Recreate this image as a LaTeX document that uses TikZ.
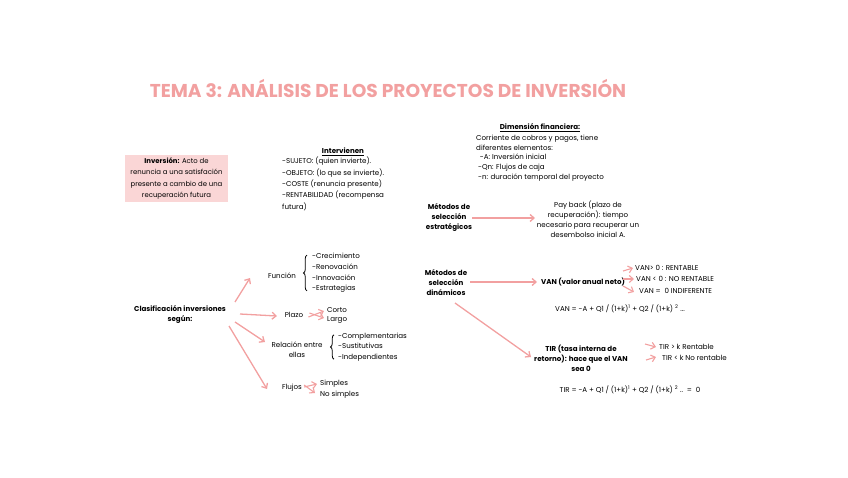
\documentclass[tikz,border=0pt]{standalone}
\usepackage{fontspec}
\setmainfont{Poppins}
\usetikzlibrary{positioning,arrows.meta,decorations.pathreplacing}
\definecolor{rosa}{HTML}{F2A0A0}
\definecolor{rosaclaro}{HTML}{FAD6D6}

\begin{document}
\begin{tikzpicture}[
    x=1pt, y=-1pt,
    font=\fontsize{7.1}{10.4}\selectfont,
    txt/.style={align=center, inner sep=1pt},
    lst/.style={align=left, inner sep=1pt},
    head/.style={txt, font=\fontsize{7.1}{10}\selectfont\bfseries},
    arrow/.style={-{Straight Barb[length=4pt,width=7pt]}, rosa, line width=1.3pt},
    sarrow/.style={arrow, line width=1.1pt},
    brace/.style={decorate, decoration={brace, amplitude=3.5pt}, line width=0.8pt}
]
\useasboundingbox (0,0) rectangle (848,477);

% ============================================================
% TITULO Y DEFINICIONES
% ============================================================
\node[text=rosa, font=\fontsize{18.6}{22}\selectfont\bfseries] (titulo) at (388,88)
    {TEMA 3: ANÁLISIS DE LOS PROYECTOS DE INVERSIÓN};

\node[txt, fill=rosaclaro, minimum width=103, minimum height=47, inner sep=0pt,
      font=\fontsize{6.9}{11.3}\selectfont] (inversion) at (176.5,178.5)
    {\textbf{Inversión:} Acto de\\renuncia a una satisfación\\presente a cambio de una\\recuperación futura};

\node[head] (interv) at (343,152) {\underline{Intervienen}};
\node[lst, anchor=north west, font=\fontsize{7.1}{11.3}\selectfont] (intervlst) at (281,156)
    {-SUJETO: (quien invierte).\\-OBJETO: (lo que se invierte).\\-COSTE (renuncia presente)\\-RENTABILIDAD (recompensa\\futura)};

\node[head] (dimfin) at (540,128) {\underline{Dimensión financiera:}};
\node[lst, anchor=north west, font=\fontsize{7.1}{9.6}\selectfont] (dimfinlst) at (475,134)
    {Corriente de cobros y pagos, tiene\\diferentes elementos:\\\ \ -A: Inversión inicial\\\ -Qn: Flujos de caja\\\ -n: duración temporal del proyecto};

% ============================================================
% METODOS DE SELECCION
% ============================================================
\node[head] (estrat) at (449,218) {Métodos de\\selección\\estratégicos};
\node[txt, font=\fontsize{7.1}{10}\selectfont] (payback) at (588,219)
    {Pay back (plazo de\\recuperación): tiempo\\necesario para recuperar un\\desembolso inicial A.};
\draw[arrow] ([shift={(23,0)}]estrat.center) -- ([shift={(-53,-1)}]payback.center);

\node[head] (dinam) at (446,283) {Métodos de\\selección\\dinámicos};
\node[head] (van) at (583,282) {VAN (valor anual neto)};
\draw[arrow] ([shift={(24,-1)}]dinam.center) -- ([shift={(-46,0)}]van.center);

\node[lst, anchor=west] (van1) at (634,268) {VAN> 0 : RENTABLE};
\node[lst, anchor=west] (van2) at (635,279) {VAN < 0 : NO RENTABLE};
\node[lst, anchor=west] (van3) at (638,291) {VAN =\ \ 0 INDIFERENTE};
\draw[sarrow] ([shift={(40,-11)}]van.center) -- ([xshift=-1pt]van1.west);
\draw[sarrow] ([shift={(40,-3)}]van.center) -- ([xshift=-1pt]van2.west);
\draw[sarrow] ([shift={(40,4)}]van.center) -- ([xshift=-4pt,yshift=-1pt]van3.west);

\node[txt] (vanform) at (620,309) {VAN = -A + Q1 / (1+k)\textsuperscript{1} + Q2 / (1+k) \textsuperscript{2} ...};

\node[head] (tir) at (581,358) {TIR (tasa interna de\\retorno): hace que el VAN\\sea 0};
\draw[arrow] ([shift={(9,20)}]dinam.center) -- ([shift={(-50,-1)}]tir.center);

\node[lst, anchor=west] (tir1) at (658,347) {TIR > k Rentable};
\node[lst, anchor=west] (tir2) at (661,358) {TIR < k No rentable};
\draw[sarrow] ([xshift=-13pt,yshift=3pt]tir1.west) -- ([xshift=-2pt]tir1.west);
\draw[sarrow] ([xshift=-15pt,yshift=-2pt]tir2.west) -- ([xshift=-5pt,yshift=1pt]tir2.west);

\node[txt] (tirform) at (630,390) {TIR = -A + Q1 / (1+k)\textsuperscript{1} + Q2 / (1+k) \textsuperscript{2} ..\ \ =\ \ 0};

% ============================================================
% CLASIFICACION
% ============================================================
\node[head] (clasif) at (180,315) {Clasificación inversiones\\según:};

\node[txt] (funcion) at (282,276) {Función};
\node[lst, anchor=west, font=\fontsize{7.1}{10.7}\selectfont] (funlst) at (311,273)
    {-Crecimiento\\-Renovación\\-Innovación\\-Estrategias};
\draw[brace] ([xshift=-4pt,yshift=3pt]funlst.south west) -- ([xshift=-4pt,yshift=-3pt]funlst.north west);
\draw[arrow] ([shift={(55,-13)}]clasif.center) -- ([shift={(-32,2)}]funcion.center);

\node[txt] (plazo) at (294,315) {Plazo};
\node[lst, anchor=west] (corto) at (326,310) {Corto};
\node[lst, anchor=west] (largo) at (326,320) {Largo};
\draw[sarrow] ([xshift=4pt,yshift=-2pt]plazo.east) -- ([xshift=-2pt,yshift=-1pt]corto.west);
\draw[sarrow] ([xshift=5pt,yshift=2pt]plazo.east) -- ([xshift=-2pt,yshift=2pt]largo.west);
\draw[arrow] ([shift={(60,-1)}]clasif.center) -- ([shift={(-17,1)}]plazo.center);

\node[txt] (relacion) at (297,350) {Relación entre\\ellas};
\node[lst, anchor=west] (rellst) at (337,347) {-Complementarias\\-Sustitutivas\\-Independientes};
\draw[brace] ([xshift=-3pt,yshift=3pt]rellst.south west) -- ([xshift=-3pt,yshift=-3pt]rellst.north west);
\draw[arrow] ([shift={(55,7)}]clasif.center) -- ([shift={(-32,-8)}]relacion.center);

\node[txt] (flujos) at (292,388) {Flujos};
\node[lst, anchor=west] (simples) at (319,384) {Simples};
\node[lst, anchor=west] (nosimples) at (319,395) {No simples};
\draw[sarrow] ([xshift=1pt,yshift=1pt]flujos.east) -- ([xshift=-2pt]simples.west);
\draw[sarrow] ([xshift=1pt,yshift=3pt]flujos.east) -- ([xshift=-4pt,yshift=2pt]nosimples.west);
\draw[arrow] ([shift={(49,11)}]clasif.center) -- ([shift={(-25,1)}]flujos.center);

\end{tikzpicture}
\end{document}
